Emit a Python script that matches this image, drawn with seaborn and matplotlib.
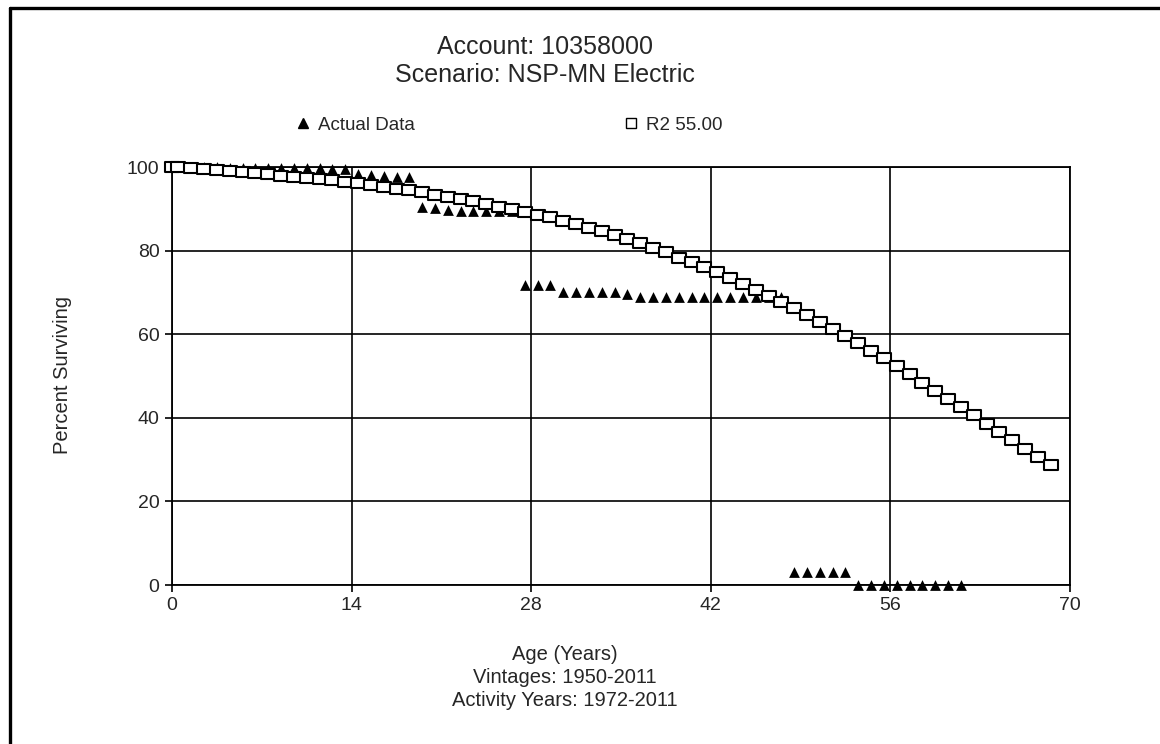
import numpy as np
import pandas as pd
import seaborn as sns
import matplotlib.pyplot as plt
from matplotlib.lines import Line2D
from matplotlib.path import Path

# ---- data ----
actual_age = [0, 0.5, 1.5, 2.5, 3.5, 4.5, 5.5, 6.5, 7.5, 8.5, 9.5, 10.5, 11.5, 12.5, 13.5,
              14.5, 15.5, 16.5, 17.5, 18.5,
              19.5, 20.5, 21.5, 22.5, 23.5, 24.5, 25.5, 26.5,
              27.5, 28.5, 29.5,
              30.5, 31.5, 32.5, 33.5, 34.5, 35.5,
              36.5, 37.5, 38.5, 39.5, 40.5, 41.5, 42.5, 43.5, 44.5, 45.5, 46.5, 47.5,
              48.5, 49.5, 50.5, 51.5, 52.5,
              53.5, 54.5, 55.5, 56.5, 57.5, 58.5, 59.5, 60.5, 61.5]
actual_pct = [100, 100, 99.9, 99.9, 99.9, 99.8, 99.8, 99.8, 99.8, 99.7, 99.7, 99.7, 99.7, 99.6, 99.6,
              98.4, 98.1, 97.8, 97.6, 97.6,
              90.4, 90.3, 89.6, 89.5, 89.5, 89.5, 89.5, 89.5,
              71.8, 71.8, 71.8,
              70.1, 70.1, 70.1, 70.1, 70.1, 69.6,
              68.8, 68.8, 68.8, 68.8, 68.8, 68.8, 68.8, 68.8, 68.8, 68.8, 68.8, 69.0,
              3.1, 3.1, 3.1, 3.1, 3.1,
              0, 0, 0, 0, 0, 0, 0, 0, 0]

r2_age = [0, 0.5] + [a + 0.5 for a in range(1, 69)]
r2_pct = [100, 99.9, 99.8, 99.5, 99.3, 99.0, 98.8, 98.6, 98.3, 97.9, 97.7, 97.4,
          97.1, 96.8, 96.5, 96.2, 95.8, 95.3, 94.8, 94.4, 94.0, 93.4, 92.9, 92.3,
          91.8, 91.1, 90.4, 89.9, 89.3, 88.6, 88.0, 87.2, 86.4, 85.5, 84.7, 83.7,
          82.7, 81.7, 80.7, 79.6, 78.3, 77.2, 76.0, 74.8, 73.4, 71.9, 70.5, 69.2,
          67.7, 66.2, 64.6, 62.9, 61.2, 59.5, 57.8, 56.1, 54.2, 52.3, 50.4, 48.4,
          46.5, 44.6, 42.6, 40.6, 38.6, 36.6, 34.6, 32.6, 30.7, 28.8]

x_ticks = [0, 14, 28, 42, 56, 70]
y_ticks = [0, 20, 40, 60, 80, 100]

title_lines = ["Account: 10358000", "Scenario: NSP-MN Electric"]
xlabel_lines = ["Age (Years)", "Vintages: 1950-2011", "Activity Years: 1972-2011"]

actual = pd.DataFrame({"age": actual_age, "pct": actual_pct})
r2 = pd.DataFrame({"age": r2_age, "pct": r2_pct})

# ---- style ----
sns.set_style("white")
plt.rcParams['font.family'] = ['Liberation Sans', 'DejaVu Sans']

W, H = 1160, 744
fig = plt.figure(figsize=(W / 100, H / 100), dpi=100)
ax = fig.add_axes([172 / W, 1 - 585 / H, 898 / W, 418 / H])

# wide box marker for the R2 curve
box = Path([(-1, -0.72), (1, -0.72), (1, 0.72), (-1, 0.72), (-1, -0.72)],
           [Path.MOVETO, Path.LINETO, Path.LINETO, Path.LINETO, Path.CLOSEPOLY])

sns.scatterplot(data=actual, x="age", y="pct", marker="^", s=60, color="black",
                linewidth=0, ax=ax, zorder=3, clip_on=False, legend=False)
sns.scatterplot(data=r2, x="age", y="pct", marker=box, s=95, facecolor="white",
                edgecolor="black", linewidth=1.5, ax=ax, zorder=4, clip_on=False, legend=False)

ax.set_xlim(0, 70)
ax.set_ylim(0, 100)
ax.set_xticks(x_ticks)
ax.set_yticks(y_ticks)
ax.set_xlabel("")
ax.set_ylabel("")
ax.grid(True, color="black", linewidth=1.2)
ax.set_axisbelow(True)
ax.tick_params(axis="both", direction="out", length=5, width=1.2, color="black",
               labelsize=14, bottom=True, left=True)
ax.tick_params(axis="y", pad=4)
ax.tick_params(axis="x", pad=4)
for sp in ax.spines.values():
    sp.set_edgecolor("black")
    sp.set_linewidth(1.3)

# titles and labels
fig.text(545 / W, 1 - 47 / H, title_lines[0], ha="center", va="center", fontsize=18)
fig.text(545 / W, 1 - 75 / H, title_lines[1], ha="center", va="center", fontsize=18)
fig.text(62 / W, 1 - 375 / H, "Percent Surviving", rotation=90, ha="center", va="center", fontsize=14.5)
for i, line in enumerate(xlabel_lines):
    fig.text(565 / W, 1 - (655 + 22.5 * i) / H, line, ha="center", va="center", fontsize=14.5)

# legend
h_tri = Line2D([], [], linestyle="none", marker="^", markersize=7, color="black")
h_box = Line2D([], [], linestyle="none", marker="s", markersize=7, markerfacecolor="white",
               markeredgecolor="black", markeredgewidth=1.0)
leg1 = fig.legend(handles=[h_tri], labels=["Actual Data"], loc="center left",
                  bbox_to_anchor=(296 / W, 1 - 125 / H), frameon=False, fontsize=13.5,
                  handlelength=0.7, handletextpad=0.45, borderpad=0, borderaxespad=0)
leg2 = fig.legend(handles=[h_box], labels=["R2 55.00"], loc="center left",
                  bbox_to_anchor=(624 / W, 1 - 125 / H), frameon=False, fontsize=13.5,
                  handlelength=0.7, handletextpad=0.45, borderpad=0, borderaxespad=0)

# outer frame (left and top edges visible)
fig.add_artist(Line2D([9.5 / W, 9.5 / W], [0, 1 - 7.5 / H], color="black", linewidth=2.4,
                      transform=fig.transFigure))
fig.add_artist(Line2D([9.5 / W, 1], [1 - 7.5 / H, 1 - 7.5 / H], color="black", linewidth=2.4,
                      transform=fig.transFigure))

fig.savefig("out.png", dpi=100, facecolor="white")
